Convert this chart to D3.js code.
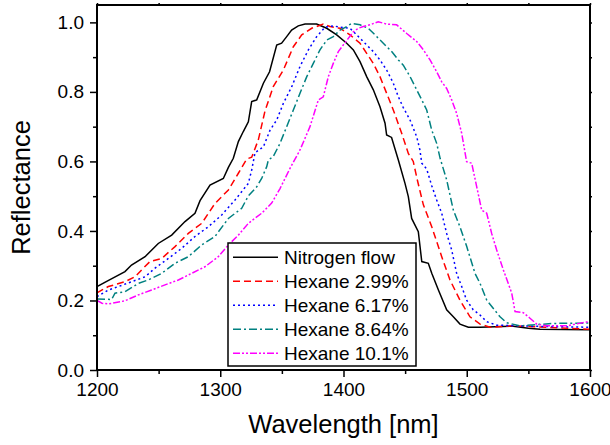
<!DOCTYPE html>
<html>
<head>
<meta charset="utf-8">
<script src="https://cdn.jsdelivr.net/npm/d3@7"></script>
<style>
  body { margin: 0; background: #fff; }
  svg { display: block; font-family: "Liberation Sans", Arial, sans-serif; }
</style>
</head>
<body>
<svg width="610" height="445"></svg>
<script>
// wavelength [nm], reflectance
const nitrogen = [
  [1200, 0.240], [1209, 0.257], [1222.7, 0.283], [1228, 0.302], [1239, 0.326],
  [1249.7, 0.364], [1260.6, 0.388], [1271.4, 0.427], [1279.5, 0.451], [1283.6, 0.487],
  [1291.7, 0.532], [1302.5, 0.551], [1306.6, 0.583], [1310.6, 0.609], [1314.7, 0.657],
  [1318.7, 0.686], [1322.8, 0.714], [1325.5, 0.772], [1329.6, 0.777], [1335, 0.825],
  [1340, 0.858], [1345.8, 0.935], [1349.8, 0.940], [1353.9, 0.959], [1357.9, 0.978],
  [1363.3, 0.990], [1368.8, 0.995], [1378.2, 0.995], [1386.4, 0.983], [1394.5, 0.964],
  [1402.6, 0.940], [1408, 0.921], [1413.4, 0.887], [1418.8, 0.844], [1424.2, 0.806],
  [1429.6, 0.757], [1433.7, 0.710], [1435, 0.676], [1439, 0.669], [1444.5, 0.604],
  [1449.9, 0.537], [1452.6, 0.499], [1455.3, 0.436], [1460.7, 0.398], [1463.5, 0.312],
  [1468.8, 0.307], [1471.6, 0.278], [1477, 0.230], [1483.7, 0.173], [1489.1, 0.153],
  [1494.5, 0.132], [1501.3, 0.123], [1510.8, 0.123], [1537.8, 0.126], [1550, 0.120],
  [1559.5, 0.117], [1600, 0.116]
];
const hexane299 = [
  [1200, 0.222], [1203.8, 0.230], [1209.2, 0.240], [1222.7, 0.254], [1230.8, 0.268],
  [1236.2, 0.288], [1243, 0.312], [1252.5, 0.321], [1263.3, 0.355], [1274.1, 0.393],
  [1285, 0.422], [1295.7, 0.479], [1306.6, 0.518], [1314.7, 0.566], [1321.5, 0.607],
  [1325.5, 0.612], [1330.9, 0.662], [1336.3, 0.745], [1343, 0.815], [1351.2, 0.863],
  [1359.3, 0.930], [1366.1, 0.964], [1374.2, 0.983], [1383.6, 0.995], [1389, 0.988],
  [1397.2, 0.983], [1405.3, 0.964], [1413.4, 0.940], [1418.8, 0.911], [1424.2, 0.882],
  [1429.6, 0.844], [1435, 0.796], [1440.4, 0.748], [1447.2, 0.681], [1452.6, 0.623],
  [1456.6, 0.600], [1460, 0.545], [1464.8, 0.475], [1471.6, 0.412], [1479.7, 0.326],
  [1486.4, 0.259], [1494.5, 0.201], [1502.6, 0.153], [1510.8, 0.132], [1518.9, 0.123],
  [1537.5, 0.127], [1564.8, 0.123], [1600, 0.117]
];
const hexane617 = [
  [1200, 0.211], [1209.2, 0.230], [1217.3, 0.240], [1228.1, 0.254], [1239, 0.268],
  [1247.1, 0.293], [1257.9, 0.321], [1268.7, 0.350], [1279.5, 0.384], [1290.3, 0.412],
  [1301.2, 0.446], [1312, 0.489], [1322.8, 0.537], [1325.5, 0.575], [1328.2, 0.625],
  [1335, 0.642], [1340.4, 0.690], [1345.8, 0.719], [1351.2, 0.767], [1358, 0.815],
  [1364.7, 0.873], [1371.5, 0.921], [1378.2, 0.959], [1385, 0.986], [1391.7, 0.990],
  [1397.2, 0.986], [1405.3, 0.983], [1410.7, 0.964], [1417.4, 0.940], [1424.2, 0.916],
  [1429.6, 0.892], [1435, 0.863], [1440.4, 0.825], [1444.5, 0.786], [1448.5, 0.755],
  [1454, 0.719], [1459.4, 0.671], [1462, 0.633], [1463.5, 0.595], [1467.5, 0.578],
  [1471.6, 0.530], [1475.6, 0.489], [1479.7, 0.451], [1483.7, 0.393], [1487.8, 0.345],
  [1491.8, 0.278], [1495.9, 0.240], [1499.9, 0.201], [1505.3, 0.173], [1510.8, 0.158],
  [1516.2, 0.139], [1524.3, 0.129], [1543.2, 0.127], [1564.8, 0.125], [1600, 0.123]
];
const hexane864 = [
  [1200, 0.204], [1211.9, 0.203], [1214.6, 0.221], [1222.7, 0.225], [1233.5, 0.249],
  [1241.6, 0.259], [1252.5, 0.278], [1263.3, 0.307], [1274.1, 0.326], [1285, 0.360],
  [1295.7, 0.384], [1306.6, 0.436], [1317.4, 0.465], [1322.8, 0.501], [1329.6, 0.527],
  [1333.6, 0.551], [1337.7, 0.585], [1339, 0.604], [1343, 0.614], [1348.5, 0.652],
  [1353.9, 0.700], [1359.3, 0.748], [1364.7, 0.796], [1370.2, 0.844], [1375.5, 0.882],
  [1380.9, 0.921], [1386.4, 0.949], [1391.7, 0.959], [1397.2, 0.978], [1402.6, 0.988],
  [1406.6, 0.997], [1413.4, 0.993], [1420.1, 0.983], [1425.6, 0.964], [1432.3, 0.940],
  [1439.1, 0.916], [1444.5, 0.892], [1448.5, 0.877], [1454, 0.844], [1459.4, 0.806],
  [1463.5, 0.777], [1467.5, 0.748], [1471.6, 0.690], [1475.6, 0.652], [1478.4, 0.609],
  [1483.7, 0.547], [1489.1, 0.460], [1494.5, 0.412], [1500, 0.355], [1506.7, 0.278],
  [1510.8, 0.249], [1516.2, 0.201], [1521.6, 0.177], [1527, 0.153], [1532.4, 0.136],
  [1543.2, 0.127], [1570.2, 0.134], [1600, 0.135]
];
const hexane101 = [
  [1200, 0.200], [1204, 0.192], [1209.2, 0.190], [1222.7, 0.199], [1233.5, 0.216],
  [1244.3, 0.230], [1255.2, 0.245], [1266, 0.259], [1276.8, 0.278], [1287.6, 0.297],
  [1298.4, 0.326], [1306.6, 0.360], [1314.7, 0.388], [1322.8, 0.422], [1333.6, 0.451],
  [1341.7, 0.480], [1348.5, 0.522], [1356.6, 0.580], [1364.7, 0.633], [1372.8, 0.700],
  [1379.6, 0.777], [1383.6, 0.786], [1387.7, 0.844], [1391.7, 0.882], [1395.8, 0.916],
  [1399.8, 0.935], [1403.9, 0.954], [1408, 0.973], [1412, 0.983], [1416.1, 0.988],
  [1421.5, 0.993], [1428.2, 1.002], [1435, 0.995], [1443.1, 0.993], [1451.3, 0.968],
  [1459.4, 0.945], [1464.8, 0.921], [1470.2, 0.892], [1475.6, 0.858], [1479.7, 0.829],
  [1483.7, 0.810], [1487.8, 0.777], [1491.8, 0.738], [1495.9, 0.681], [1499.9, 0.599],
  [1504, 0.595], [1508.1, 0.527], [1512.1, 0.460], [1516.2, 0.451], [1520.2, 0.393],
  [1524.3, 0.345], [1529.7, 0.288], [1533.7, 0.249], [1536.5, 0.221], [1539.2, 0.168],
  [1545.9, 0.165], [1551.3, 0.149], [1556.8, 0.132], [1564.8, 0.127], [1581, 0.127],
  [1600, 0.140]
];

const seriesNames = ["Nitrogen flow", "Hexane 2.99%", "Hexane 6.17%", "Hexane 8.64%", "Hexane 10.1%"];
const seriesData = [nitrogen, hexane299, hexane617, hexane864, hexane101];
const seriesColors = ["#000000", "#ff0000", "#0000ff", "#008080", "#ff00ff"];
const seriesDash = [null, "7,4", "2,3", "8,3,2,3", "7,2,2,2,2,2"];

const xTicks = [1200, 1300, 1400, 1500, 1600];
const xMinor = [1250, 1350, 1450, 1550];
const yTicks = [0.0, 0.2, 0.4, 0.6, 0.8, 1.0];
const yMinor = [0.1, 0.3, 0.5, 0.7, 0.9];

var svg = d3.select("svg"),
  plotLeft = 97, plotRight = 590, plotTop = 5, plotBottom = 370;

var x = d3.scaleLinear().domain([1200, 1600]).range([plotLeft, plotRight]);
var y = d3.scaleLinear().domain([0, 1.05]).range([plotBottom, plotTop]);

// curves
var line = d3.line()
  .x(function (d) { return x(d[0]); })
  .y(function (d) { return y(d[1]); });

svg.append("defs").append("clipPath").attr("id", "clip")
  .append("rect").attr("x", plotLeft).attr("y", plotTop)
  .attr("width", plotRight - plotLeft).attr("height", plotBottom - plotTop);

svg.append("g").attr("clip-path", "url(#clip)")
  .selectAll("path")
  .data(seriesData)
  .enter()
  .append("path")
  .attr("d", line)
  .attr("fill", "none")
  .attr("stroke", function (d, i) { return seriesColors[i]; })
  .attr("stroke-width", 1.5)
  .attr("stroke-dasharray", function (d, i) { return seriesDash[i]; });

// axes
function styleAxis(g) {
  g.select(".domain").remove();
  g.selectAll("line").attr("stroke", "#000").attr("stroke-width", 1.5);
  g.selectAll("text").attr("font-size", "19px").attr("fill", "#000")
    .attr("font-family", "'Liberation Sans', Arial, sans-serif");
}

svg.append("g").attr("transform", "translate(0," + plotBottom + ")")
  .call(d3.axisBottom(x).tickValues(xTicks).tickSize(7).tickPadding(6).tickFormat(d3.format("d")))
  .call(styleAxis);
svg.append("g").attr("transform", "translate(0," + plotBottom + ")")
  .call(d3.axisBottom(x).tickValues(xMinor).tickSize(4).tickFormat(""))
  .call(styleAxis);
svg.append("g").attr("transform", "translate(" + plotLeft + ",0)")
  .call(d3.axisLeft(y).tickValues(yTicks).tickSize(7).tickPadding(6).tickFormat(d3.format(".1f")))
  .call(styleAxis);
svg.append("g").attr("transform", "translate(" + plotLeft + ",0)")
  .call(d3.axisLeft(y).tickValues(yMinor).tickSize(4).tickFormat(""))
  .call(styleAxis);
svg.append("g").attr("transform", "translate(0," + plotTop + ")")
  .call(d3.axisTop(x).tickValues(xTicks.concat(xMinor)).tickSize(2).tickFormat(""))
  .call(styleAxis);
svg.append("g").attr("transform", "translate(" + plotRight + ",0)")
  .call(d3.axisRight(y).tickValues(yTicks.concat(yMinor)).tickSize(2).tickFormat(""))
  .call(styleAxis);

svg.append("rect")
  .attr("x", plotLeft).attr("y", plotTop)
  .attr("width", plotRight - plotLeft).attr("height", plotBottom - plotTop)
  .attr("fill", "none").attr("stroke", "#000").attr("stroke-width", 2);

// titles
svg.append("text")
  .attr("x", (plotLeft + plotRight) / 2).attr("y", 433)
  .attr("text-anchor", "middle").attr("font-size", "25.5px")
  .text("Wavelength [nm]");
svg.append("text")
  .attr("transform", "translate(30," + (plotTop + plotBottom) / 2 + ")rotate(-90)")
  .attr("text-anchor", "middle").attr("font-size", "25.5px")
  .text("Reflectance");

// legend
var legend = svg.append("g");
legend.append("rect")
  .attr("x", 228).attr("y", 243).attr("width", 188).attr("height", 123)
  .attr("fill", "#fff").attr("stroke", "#000").attr("stroke-width", 1.5);

var item = legend.selectAll("g.item")
  .data(seriesNames)
  .enter()
  .append("g")
  .attr("class", "item")
  .attr("transform", function (d, i) { return "translate(0," + (264.3 + i * 24) + ")"; });

item.append("line")
  .attr("x1", 233).attr("x2", 278).attr("y1", -7).attr("y2", -7)
  .attr("stroke", function (d, i) { return seriesColors[i]; })
  .attr("stroke-width", 1.5)
  .attr("stroke-dasharray", function (d, i) { return seriesDash[i]; });

item.append("text")
  .attr("x", 284).attr("y", 0)
  .attr("font-size", "19px")
  .text(function (d) { return d; });
</script>
</body>
</html>
